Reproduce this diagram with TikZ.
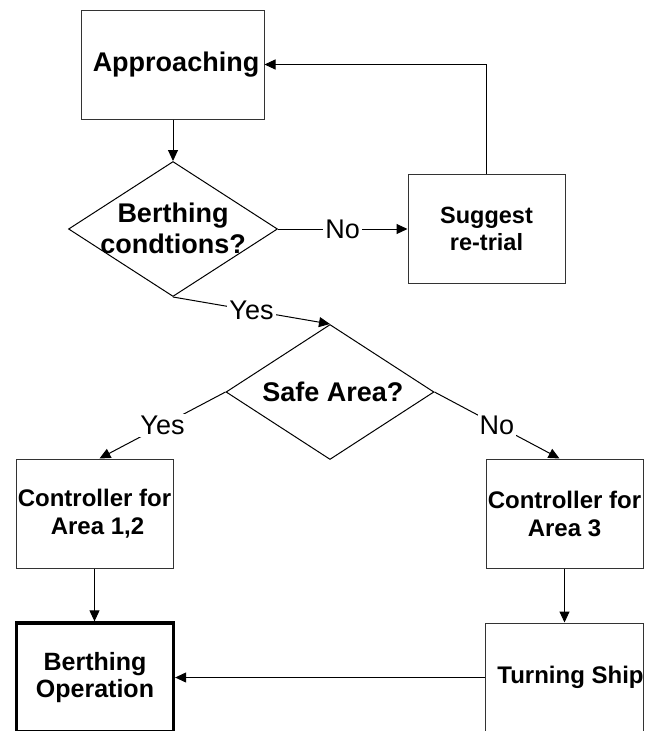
\documentclass[tikz,border=0pt]{standalone}
\usepackage{fontspec}
\setmainfont{Liberation Sans}
\usetikzlibrary{shapes.geometric,arrows.meta}
\begin{document}
\begin{tikzpicture}[x=1pt,y=-1pt,
  line width=1pt,
  arr/.style={-{Triangle[length=11pt,width=10pt]}},
  boxnode/.style={draw=black!80, line width=1pt, rectangle, minimum width=157pt, minimum height=109pt, inner sep=0pt, align=center},
  dia/.style={draw=black, diamond, minimum width=209pt, minimum height=135pt, inner sep=0pt},
  bigtxt/.style={font=\fontsize{27pt}{31pt}\selectfont\bfseries, align=center, inner sep=0pt},
  midtxt/.style={font=\fontsize{24pt}{28pt}\selectfont\bfseries},
  lbl/.style={font=\fontsize{27pt}{31pt}\selectfont, fill=white, inner sep=2pt}
]
\useasboundingbox (0,0) rectangle (647,731);
\begin{scope}
\clip (0,0) rectangle (647,731);
% nodes
\node[boxnode, minimum width=183pt, font=\fontsize{27pt}{31pt}\selectfont\bfseries] (app) at (172.5,64.5) {\hspace{7pt}Approaching};
\node[dia] (d1) at (173,229) {};
\node[bigtxt] (d1t) at (173,228) {Berthing\\condtions?};
\node[boxnode, font=\fontsize{23.5pt}{27pt}\selectfont\bfseries] (sug) at (486.5,228.5) {Suggest\\re-trial};
\node[dia, minimum width=208pt] (d2) at (330,392) {};
\node[bigtxt] (d2t) at (333,392) {Safe Area?};
\node[boxnode, font=\fontsize{24pt}{28pt}\selectfont\bfseries] (c12) at (94.5,513.5) {Controller for\\\hspace{6pt}Area 1,2};
\node[boxnode, font=\fontsize{24pt}{28pt}\selectfont\bfseries] (c3) at (564.5,513.5) {Controller for\\Area 3};
\node[boxnode, draw=black, line width=3.3pt, font=\fontsize{25pt}{27pt}\selectfont\bfseries] (bo) at (95,677.5) {Berthing\\Operation};
\node[boxnode, font=\fontsize{24pt}{28pt}\selectfont\bfseries] (ts) at (564.5,677.5) {\hspace{12pt}Turning Ship};
% connectors
\draw[arr] (app.south -| d1.north) -- (d1.north);
\draw[arr] (d1.east) -- node[lbl] (no1) {No} (sug.west |- d1.east);
\draw[arr] (sug.north) |- (app.east);
\draw[arr] (d1.south) -- node[lbl] (yes1) {Yes} (d2.north);
\coordinate (c12in) at ([xshift=5pt]c12.north);
\coordinate (c3in) at ([xshift=-5pt]c3.north);
\draw[arr] (d2.west) -- node[lbl] (yes2) {Yes} (c12in);
\draw[arr] (d2.east) -- node[lbl] (no2) {No} (c3in);
\draw[arr] (c12.south) -- (bo.north -| c12.south);
\draw[arr] (c3.south) -- (ts.north);
\draw[arr] (ts.west) -- (bo.east);
\end{scope}
\end{tikzpicture}
\end{document}
